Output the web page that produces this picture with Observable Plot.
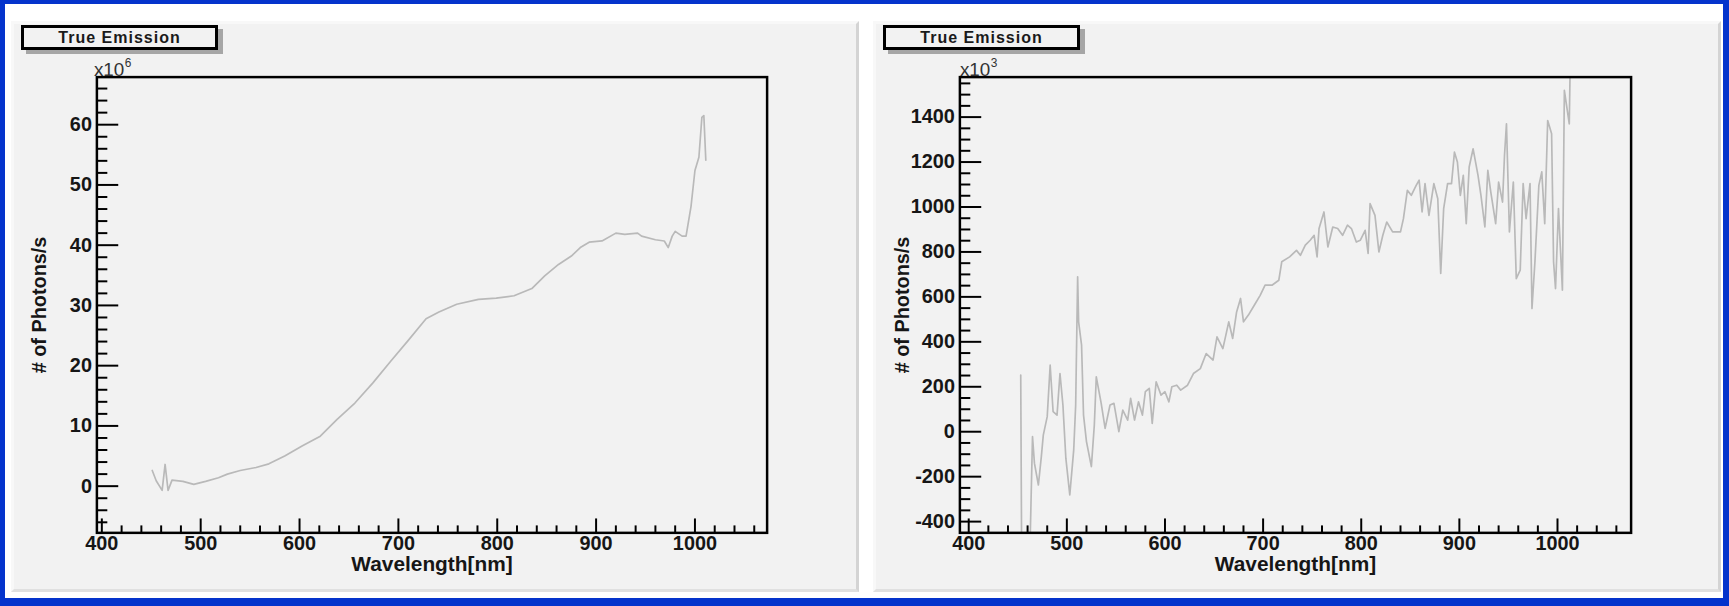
<!DOCTYPE html>
<html>
<head>
<meta charset="utf-8">
<script src="https://cdn.jsdelivr.net/npm/d3@7"></script>
<script src="https://cdn.jsdelivr.net/npm/@observablehq/plot@0.6"></script>
<style>
  html, body { margin: 0; padding: 0; background: #fff; }
  #page { position: relative; width: 1729px; height: 606px; background: #fff; overflow: hidden; }
  .blue { position: absolute; background: #0433cc; }
  .panel { position: absolute; top: 21px; width: 848px; height: 571px; box-sizing: border-box;
           background: #f2f2f2; border-top: 3px solid #f8f8f8; border-left: 3px solid #f8f8f8;
           border-right: 3px solid #d4d4d4; border-bottom: 3px solid #e0e0e0; }
  .panel svg { position: absolute; left: -3px; top: -3px; }
  .titlebox { position: absolute; left: 7px; top: 1px; width: 197px; height: 25px; box-sizing: border-box;
              border: 3px solid #000; background: #f2f2f2; box-shadow: 5px 4px 0 #a6a6a6;
              font: bold 16px 'Liberation Sans', Arial, sans-serif; color: #1a1a1a;
              text-align: center; line-height: 19px; letter-spacing: 1px; z-index: 2; }
</style>
</head>
<body>
<div id="page">
  <div class="blue" style="left:0;top:0;width:1729px;height:4px"></div>
  <div class="blue" style="left:0;top:0;width:5px;height:606px"></div>
  <div class="blue" style="left:1723px;top:0;width:6px;height:606px"></div>
  <div class="blue" style="left:0;top:598px;width:1729px;height:8px"></div>
  <div class="panel" id="p1" style="left:11px"><div class="titlebox">True Emission</div></div>
  <div class="panel" id="p2" style="left:873px"><div class="titlebox">True Emission</div></div>
</div>
<script>
// ---- Data ----
const chartTitle = "True Emission";
const xTitle = "Wavelength[nm]";
const yTitle = "# of Photons/s";

// Left panel (×10^6 photons/s)
const leftWavelength = [451, 455, 461, 464, 467, 471, 482, 493, 505, 518,
  527, 540, 556, 569, 585, 603, 621, 638, 656, 674,
  692, 710, 728, 741, 759, 781, 799, 817, 835, 848,
  862, 875, 884, 893, 906, 920, 929, 942, 946, 960,
  969, 973, 977, 980, 987, 991, 996, 1000, 1004, 1007,
  1009, 1011];
const leftPhotons = [2.6, 0.9, -0.7, 3.6, -0.7, 1.0, 0.8, 0.3, 0.8, 1.4,
  2.0, 2.6, 3.1, 3.7, 5.0, 6.7, 8.3, 11.1, 13.8, 17.1,
  20.7, 24.2, 27.8, 28.9, 30.2, 31.0, 31.2, 31.6, 32.8, 34.9,
  36.8, 38.2, 39.6, 40.5, 40.7, 42.0, 41.8, 42.0, 41.5, 40.9,
  40.7, 39.6, 41.5, 42.3, 41.5, 41.5, 46.4, 52.4, 54.6, 61.2,
  61.5, 54.1];

// Right panel (×10^3 photons/s)
const rightWavelength = [453, 454, 462, 465, 467, 471, 474, 476, 480, 483,
  486, 490, 493, 496, 499, 503, 507, 509, 511, 512,
  515, 517, 520, 525, 528, 530, 535, 539, 544, 548,
  553, 557, 562, 565, 569, 573, 577, 580, 584, 587,
  591, 596, 600, 604, 607, 612, 616, 623, 629, 636,
  642, 649, 653, 659, 665, 669, 673, 677, 680, 685,
  691, 697, 702, 709, 716, 719, 727, 734, 738, 743,
  748, 752, 755, 757, 762, 766, 771, 776, 781, 786,
  790, 795, 799, 804, 807, 809, 814, 818, 822, 826,
  832, 840, 843, 847, 851, 856, 859, 862, 865, 869,
  874, 878, 881, 884, 888, 892, 895, 898, 901, 904,
  907, 910, 914, 919, 922, 926, 929, 932, 937, 940,
  944, 946, 948, 951, 955, 958, 962, 965, 968, 972,
  974, 977, 981, 984, 987, 990, 994, 996, 998, 1001,
  1005, 1007, 1012, 1013];
const rightPhotons = [252, -600, -600, -22, -141, -237, -111, -15, 67, 296,
  89, 74, 259, 119, -119, -281, -81, 119, 689, 489,
  385, 74, -44, -155, 30, 244, 126, 15, 119, 126,
  0, 96, 52, 148, 52, 133, 74, 178, 193, 37,
  222, 163, 178, 133, 200, 207, 185, 207, 259, 281,
  348, 319, 422, 370, 489, 415, 533, 593, 489, 519,
  563, 607, 652, 652, 674, 756, 778, 807, 785, 830,
  852, 874, 778, 904, 978, 822, 911, 904, 874, 919,
  904, 844, 852, 896, 793, 1015, 963, 800, 874, 933,
  889, 889, 948, 1074, 1052, 1096, 1119, 978, 1104, 963,
  1104, 1037, 704, 993, 1104, 1104, 1244, 1200, 1052, 1141,
  926, 1178, 1259, 1141, 1052, 911, 1163, 1067, 926, 1111,
  1022, 1230, 1370, 889, 1111, 681, 719, 1104, 948, 1104,
  548, 756, 1096, 1156, 926, 1385, 1326, 756, 637, 993,
  630, 1519, 1370, 1650];

// Tick labels
const xMajorTicks = [400, 500, 600, 700, 800, 900, 1000];
const leftYTicks = [0, 10, 20, 30, 40, 50, 60];
const rightYTicks = [-400, -200, 0, 200, 400, 600, 800, 1000, 1200, 1400];
const leftExponent = "6";
const rightExponent = "3";

// ---- Drawing ----
const FONT = "'Liberation Sans', Arial, Helvetica, sans-serif";
const xMinorTicks = d3.range(420, 1072, 20).filter(d => d % 100 !== 0);

function makePanel({xs, ys, xDomain, yDomain, yMajor, yMinor, marginLeft, marginRight, exponent, x10dx}) {
  return Plot.plot({
    width: 848, height: 571,
    marginLeft, marginRight, marginTop: 56, marginBottom: 56,
    style: {background: "transparent", fontFamily: FONT, fontSize: "20px", fontWeight: "bold", color: "#161616", overflow: "visible"},
    x: {domain: xDomain},
    y: {domain: yDomain},
    marks: [
      Plot.line(ys, {x: xs, y: ys, stroke: "#b9b9b9", strokeWidth: 1.7, clip: true}),
      Plot.axisX(xMinorTicks, {anchor: "bottom", tickSize: -7, tickFormat: () => "", label: null, strokeWidth: 2, stroke: "#000"}),
      Plot.axisX(xMajorTicks, {anchor: "bottom", tickSize: -14, tickFormat: () => "", label: null, strokeWidth: 2, stroke: "#000"}),
      Plot.axisX(xMajorTicks, {anchor: "bottom", tickSize: 0, tickPadding: 3, tickFormat: d => String(d), label: null}),
      Plot.axisY(yMinor, {anchor: "left", tickSize: -11, tickFormat: () => "", label: null, strokeWidth: 2, stroke: "#000"}),
      Plot.axisY(yMajor, {anchor: "left", tickSize: -22, tickFormat: () => "", label: null, strokeWidth: 2, stroke: "#000"}),
      Plot.axisY(yMajor, {anchor: "left", tickSize: 0, tickPadding: 5, tickFormat: d => String(d), label: null}),
      Plot.frame({stroke: "#000", strokeWidth: 2.5}),
      Plot.text([xTitle], {frameAnchor: "bottom", textAnchor: "middle", dy: 32, lineAnchor: "middle", fontSize: 21}),
      Plot.text([yTitle], {frameAnchor: "left", textAnchor: "middle", dx: -58, rotate: -90, lineAnchor: "middle", fontSize: 20}),
      Plot.text(["x10"], {frameAnchor: "top-left", textAnchor: "start", lineAnchor: "bottom", dx: x10dx, dy: -1, fontSize: 19, fontWeight: "normal", fill: "#333"}),
      Plot.text([exponent], {frameAnchor: "top-left", textAnchor: "start", lineAnchor: "bottom", dx: x10dx + 31, dy: -10, fontSize: 12, fontWeight: "normal", fill: "#333"})
    ]
  });
}

document.getElementById("p1").appendChild(makePanel({
  xs: leftWavelength, ys: leftPhotons,
  xDomain: [395, 1073], yDomain: [-7.75, 67.9],
  yMajor: leftYTicks, yMinor: d3.range(-6, 67, 2).filter(d => d % 10 !== 0),
  marginLeft: 86, marginRight: 87, exponent: leftExponent, x10dx: -3
}));
document.getElementById("p2").appendChild(makePanel({
  xs: rightWavelength, ys: rightPhotons,
  xDomain: [391, 1075], yDomain: [-450, 1578],
  yMajor: rightYTicks, yMinor: d3.range(-450, 1578, 50).filter(d => d % 200 !== 0),
  marginLeft: 87, marginRight: 85, exponent: rightExponent, x10dx: 0
}));
</script>
</body>
</html>
